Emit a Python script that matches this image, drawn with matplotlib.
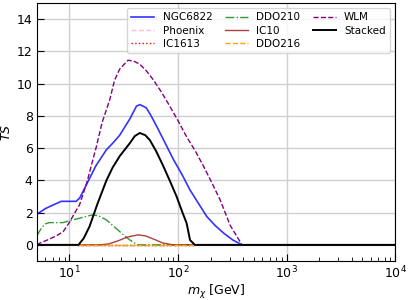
import matplotlib
matplotlib.use('Agg')
import matplotlib.pyplot as plt
import numpy as np

# masas [GeV] y TS
m_ngc = [5.0, 6.0, 7.2, 8.4, 10.0, 11.5, 12.4, 13.3, 15.0, 17.5, 21.9, 25.0, 29.0, 35.9, 41.4, 44.5, 51.0, 56.0,
         63.6, 75.0, 90.6, 110.0, 129.0, 155.0, 184.0, 220.0, 262.0, 320.0, 389.0, 10000.0]
ts_ngc = [1.9, 2.25, 2.5, 2.7, 2.7, 2.7, 2.9, 3.3, 4.0, 4.9, 5.9, 6.3, 6.8, 7.8, 8.6, 8.7, 8.5, 8.05,
          7.35, 6.4, 5.3, 4.3, 3.4, 2.55, 1.76, 1.2, 0.74, 0.3, 0.0, 0.0]

m_wlm = [5.0, 5.3, 6.5, 7.5, 8.7, 10.0, 11.0, 12.4, 14.5, 17.7, 20.0, 23.5, 26.0, 29.0, 34.6, 39.0, 44.5,
         51.0, 59.0, 70.0, 84.0, 100.0, 120.0, 145.0, 171.0, 205.0, 244.0, 303.0, 350.0, 389.0, 10000.0]
ts_wlm = [0.0, 0.1, 0.35, 0.55, 0.8, 1.4, 1.9, 2.5, 3.9, 6.1, 7.6, 9.0, 10.2, 10.9, 11.45, 11.4, 11.2,
          10.8, 10.25, 9.5, 8.6, 7.7, 6.7, 5.8, 4.9, 3.85, 2.8, 1.2, 0.5, 0.0, 0.0]

m_stk = [5.0, 12.1, 13.5, 15.3, 18.0, 21.9, 25.0, 29.0, 35.9, 40.0, 44.5, 50.0, 55.0, 63.0, 73.0, 85.0,
         97.0, 110.0, 120.0, 129.0, 143.0, 10000.0]
ts_stk = [0.0, 0.0, 0.4, 1.14, 2.5, 4.0, 4.8, 5.5, 6.3, 6.75, 6.94, 6.8, 6.5, 5.8, 4.9, 3.9,
          3.0, 2.0, 1.35, 0.3, 0.0, 0.0]

m_ddo210 = [5.0, 5.3, 5.6, 6.0, 6.5, 7.5, 8.7, 10.0, 12.4, 14.5, 16.4, 18.5, 21.9, 25.0, 29.0, 33.0, 36.0,
            42.6, 10000.0]
ts_ddo210 = [0.55, 0.85, 1.1, 1.3, 1.38, 1.38, 1.38, 1.5, 1.65, 1.78, 1.86, 1.8, 1.55, 1.2, 0.83, 0.5, 0.3,
             0.0, 0.0]

m_ic10 = [5.0, 19.0, 23.0, 28.0, 34.0, 42.6, 50.0, 60.0, 72.0, 90.0, 10000.0]
ts_ic10 = [0.0, 0.0, 0.06, 0.25, 0.48, 0.62, 0.56, 0.35, 0.12, 0.0, 0.0]

m_ddo216 = [12.1, 143.0]
ts_ddo216 = [0.0, 0.0]

m_phoenix = [12.1, 143.0]
ts_phoenix = [0.0, 0.0]

m_ic1613 = [12.1, 143.0]
ts_ic1613 = [0.0, 0.0]

fig = plt.figure(figsize=(4.09, 3.0), dpi=100)
ax = fig.add_axes([0.09, 0.13, 0.876, 0.86])

ax.plot(m_ngc, ts_ngc, color='blue', lw=1.2, alpha=0.8, label='NGC6822')
ax.plot(m_phoenix, ts_phoenix, color='pink', ls='--', lw=1.0, label='Phoenix')
ax.plot(m_ic1613, ts_ic1613, color='red', ls=':', lw=1.0, label='IC1613')
ax.plot(m_ddo210, ts_ddo210, color='green', ls='-.', lw=1.0, alpha=0.8, label='DDO210')
ax.plot(m_ic10, ts_ic10, color='brown', lw=1.0, alpha=0.9, label='IC10')
ax.plot(m_ddo216, ts_ddo216, color='orange', ls='--', lw=1.0, label='DDO216')
ax.plot(m_wlm, ts_wlm, color='purple', ls='--', lw=1.0, label='WLM')
ax.plot(m_stk, ts_stk, color='black', lw=1.4, label='Stacked')

ax.set_xscale('log')
ax.set_xlim(5, 1e4)
ax.set_ylim(-1, 15)
ax.set_yticks([0, 2, 4, 6, 8, 10, 12, 14])
ax.grid(True, which='major', color='#d0d0d0', lw=1.0)
ax.set_axisbelow(True)
ax.tick_params(which='both', direction='in', labelsize=9)
ax.tick_params(which='major', length=5, pad=3)
ax.tick_params(which='minor', length=3)
ax.set_xlabel(r'$m_\chi$ [GeV]', fontsize=9, labelpad=1)
ax.set_ylabel(r'$TS$', fontsize=9, labelpad=3)
ax.legend(ncol=3, loc='upper right', fontsize=7.5, handlelength=2.2, columnspacing=1.2,
          labelspacing=0.3, borderpad=0.4)

fig.savefig('out.png', dpi=100)
